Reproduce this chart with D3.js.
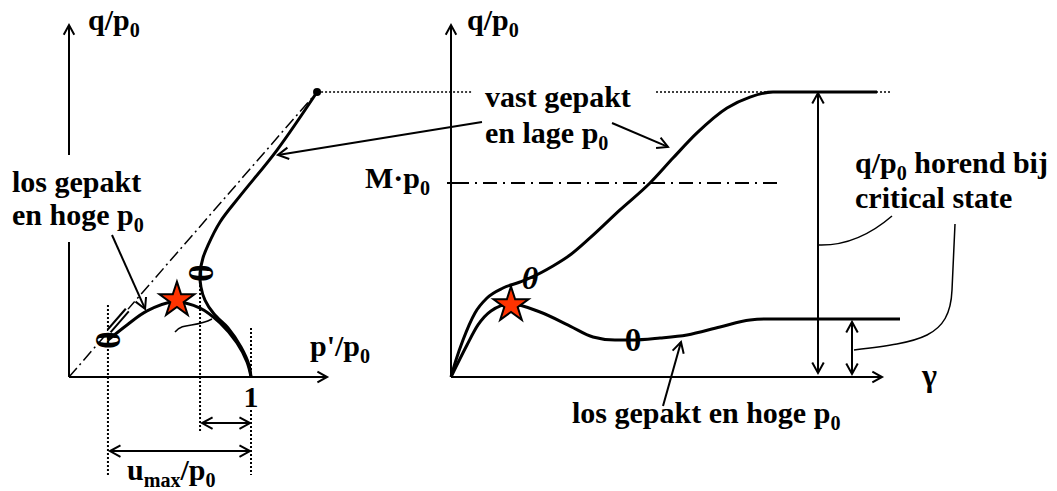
<!DOCTYPE html>
<html>
<head>
<meta charset="utf-8">
<script src="https://d3js.org/d3.v7.min.js"></script>
<style>
  body { margin: 0; background: #fff; }
  text { font-family: "Liberation Serif", "Times New Roman", serif; font-weight: bold; fill: #000; white-space: pre; }
</style>
</head>
<body>
<svg id="chart" width="1057" height="491"></svg>
<script>
// left panel: stress paths, p'/p0 horizontal, q/p0 vertical
var looseLeft = [[1, 0], [0.978, 0.082], [0.923, 0.187], [0.830, 0.297], [0.720, 0.379],
                 [0.571, 0.412], [0.429, 0.363], [0.319, 0.286], [0.214, 0.203]];
var denseLeft = [[1, 0], [0.989, 0.066], [0.945, 0.165], [0.874, 0.269], [0.797, 0.346],
                 [0.747, 0.423], [0.725, 0.495], [0.720, 0.571], [0.736, 0.654], [0.764, 0.725],
                 [0.830, 0.852], [0.940, 0.995], [1.143, 1.247], [1.363, 1.566]];
var peakLeft = [1.363, 1.566];
var slopeM = 1.149;              // critical state line in left panel
var starLeft = [0.593, 0.423];
var thetaLeft = [[0.214, 0.203], [0.720, 0.571]];
var uStart = 0.214, uPhase = 0.720;

// right panel: q/p0 against gamma
var denseRight = [[0, 0], [0.125, 0.093], [0.3, 0.203], [0.6, 0.352], [0.9, 0.434], [1.3, 0.489],
                  [1.725, 0.522], [1.975, 0.544], [2.55, 0.610], [2.975, 0.670], [3.475, 0.764],
                  [4.225, 0.918], [4.975, 1.066], [5.55, 1.203], [6.15, 1.341], [6.9, 1.478],
                  [7.475, 1.538], [8.05, 1.566], [9.15, 1.566], [10.65, 1.566]];
var looseRight = [[0, 0], [0.4, 0.176], [0.675, 0.286], [1.0, 0.363], [1.5, 0.401], [2.225, 0.357],
                  [2.975, 0.280], [3.55, 0.220], [4.1, 0.203], [4.525, 0.203], [5.225, 0.214],
                  [5.9, 0.231], [6.725, 0.275], [7.475, 0.313], [7.975, 0.319], [11.225, 0.319]];
var starRight = [1.5, 0.396];
var thetaRight = [[1.975, 0.544], [4.55, 0.203]];
var mRight = 1.066;
var critLevels = [1.566, 0.319];
var critGamma = [9.175, 10.025];

var svg = d3.select('#chart');

var xL = d3.scaleLinear().domain([0, 1]).range([69, 251]);
var yL = d3.scaleLinear().domain([0, 1]).range([377, 195]);
var xR = d3.scaleLinear().domain([0, 10]).range([451, 851]);
var yR = yL.copy();

var lineL = d3.line().x(function(d) { return xL(d[0]); }).y(function(d) { return yL(d[1]); })
  .curve(d3.curveCatmullRom.alpha(0.5));
var lineR = d3.line().x(function(d) { return xR(d[0]); }).y(function(d) { return yR(d[1]); })
  .curve(d3.curveMonotoneX);

function seg(x1, y1, x2, y2, w, dash) {
  var l = svg.append('line').attr('x1', x1).attr('y1', y1).attr('x2', x2).attr('y2', y2)
    .attr('stroke', '#000').attr('stroke-width', w || 2);
  if (dash) l.attr('stroke-dasharray', dash);
  return l;
}

// open chevron at (x,y) pointing along angle a
function head(x, y, a, len) {
  len = len || 12;
  var sp = 0.5;
  var p = 'M' + (x - len * Math.cos(a - sp)) + ',' + (y - len * Math.sin(a - sp)) +
          'L' + x + ',' + y +
          'L' + (x - len * Math.cos(a + sp)) + ',' + (y - len * Math.sin(a + sp));
  svg.append('path').attr('d', p).attr('fill', 'none').attr('stroke', '#000').attr('stroke-width', 2);
}

function arrow(x1, y1, x2, y2, both) {
  seg(x1, y1, x2, y2, 2);
  var a = Math.atan2(y2 - y1, x2 - x1);
  head(x2, y2, a);
  if (both) head(x1, y1, a + Math.PI);
}

function label(x, y, parts, size, anchor) {
  size = size || 30;
  var t = svg.append('text').attr('x', x).attr('y', y).attr('font-size', size);
  if (anchor) t.attr('text-anchor', anchor);
  var shift = 0;
  parts.forEach(function(s) {
    var sub = s.charAt(0) === '_';
    var off = sub ? 7 : 0;
    t.append('tspan').attr('dy', off - shift).attr('font-size', sub ? size * 0.67 : size)
      .text(sub ? s.slice(1) : s);
    shift = off;
  });
  return t;
}

function theta(x, y, rot, italic) {
  svg.append('text').attr('x', x).attr('y', y).attr('font-size', rot ? 34 : 32)
    .attr('text-anchor', 'middle').attr('dominant-baseline', 'central')
    .attr('font-style', italic ? 'italic' : null)
    .attr('transform', rot ? 'rotate(90,' + x + ',' + y + ')' : null)
    .text('\u03b8');
}

function star(x, y) {
  svg.append('path').attr('d', d3.symbol(d3.symbolStar).size(380)())
    .attr('transform', 'translate(' + x + ',' + y + ')')
    .attr('fill', '#ff3300').attr('stroke', '#000').attr('stroke-width', 2);
}

// ---------- left panel ----------
seg(xL(0), yL(0), xL(0), yL(0.742), 2);
seg(xL(0), yL(1.22), xL(0), yL(1.934), 2);
head(xL(0), yL(1.934), -Math.PI / 2, 11);
seg(xL(0), yL(0), xL(1.418), yL(0), 2);
head(xL(1.418), yL(0), 0, 11);

// critical state line
seg(xL(0), yL(0), xL(1.35), yL(1.35 * slopeM), 1.5, '12,4,2,4');

// dotted guides
seg(xL(uStart), yL(0.396), xL(uStart), yL(-0.538), 2, '2,2');
seg(xL(uPhase), yL(0.571), xL(uPhase), yL(-0.302), 2, '2,2');
seg(xL(1), yL(0.269), xL(1), yL(0), 2, '2,2');
seg(xL(1), yL(-0.181), xL(1), yL(-0.538), 2, '2,2');

// loose path following the CSL: drawn as a double line
svg.append('path').attr('d', lineL([[0.22, 0.22 * slopeM], [0.32, 0.32 * slopeM]]))
  .attr('stroke', '#000').attr('stroke-width', 6).attr('fill', 'none');
svg.append('path').attr('d', lineL([[0.215, 0.215 * slopeM], [0.325, 0.325 * slopeM]]))
  .attr('stroke', '#fff').attr('stroke-width', 2).attr('fill', 'none');

svg.append('path').attr('d', lineL(looseLeft)).attr('fill', 'none').attr('stroke', '#000').attr('stroke-width', 3);
svg.append('path').attr('d', lineL(denseLeft)).attr('fill', 'none').attr('stroke', '#000').attr('stroke-width', 3);

svg.append('circle').attr('cx', xL(peakLeft[0])).attr('cy', yL(peakLeft[1])).attr('r', 4).attr('fill', '#000');

// little tilde linking the two paths
svg.append('path').attr('d', 'M175,332 C183,322 195,328 212,319')
  .attr('fill', 'none').attr('stroke', '#000').attr('stroke-width', 1.5);

star(xL(starLeft[0]), yL(starLeft[1]));
thetaLeft.forEach(function(d) { theta(xL(d[0]), yL(d[1]), true, false); });

arrow(xL(uPhase) + 2, yL(-0.253), xL(1) - 1, yL(-0.253), true);
arrow(xL(uStart) + 2, yL(-0.407), xL(1) - 1, yL(-0.407), true);

label(88, 30, ['q/p', '_0']);
label(310, 356, ["p'/p", '_0']);
label(xL(1), 407, ['1'], 30, 'middle');
label(127, 480, ['u', '_max', '/p', '_0']);
label(12, 192, ['los gepakt']);
label(12, 225, ['en hoge p', '_0']);
arrow(112, 235, xL(0.418), yL(0.374));

// ---------- dotted top line across panels ----------
seg(xL(peakLeft[0]), yL(peakLeft[1]), xR(0.525), yR(critLevels[0]), 1.5, '2,2');
seg(xR(5.125), yR(critLevels[0]), xR(10.975), yR(critLevels[0]), 1.5, '2,2');

// ---------- right panel ----------
seg(xR(0), yR(0), xR(0), yR(1.934), 2);
head(xR(0), yR(1.934), -Math.PI / 2, 11);
seg(xR(0), yR(0), xR(10.775), yR(0), 2);
head(xR(10.775), yR(0), 0, 11);

seg(xR(-0.1), yR(mRight), xR(0.1), yR(mRight), 2);
seg(xR(0.1), yR(mRight), xR(8.225), yR(mRight), 2, '14,6,2,6');

svg.append('path').attr('d', lineR(denseRight)).attr('fill', 'none').attr('stroke', '#000').attr('stroke-width', 3);
svg.append('path').attr('d', lineR(looseRight)).attr('fill', 'none').attr('stroke', '#000').attr('stroke-width', 3);

star(xR(starRight[0]), yR(starRight[1]));
theta(xR(thetaRight[0][0]), yR(thetaRight[0][1]), false, true);
theta(xR(thetaRight[1][0]), yR(thetaRight[1][1]), false, false);

arrow(xR(critGamma[0]), yR(critLevels[0]) + 1, xR(critGamma[0]), yR(0) - 4, true);
arrow(xR(critGamma[1]), yR(critLevels[1]) + 3, xR(critGamma[1]), yR(0) - 3, true);

svg.append('path').attr('d', 'M' + xR(critGamma[0]) + ',245 C845,246 870,235 892,216')
  .attr('fill', 'none').attr('stroke', '#000').attr('stroke-width', 1.5);
svg.append('path').attr('d', 'M' + (xR(critGamma[1]) + 2) + ',350 C920,342 950,338 952,290 L955,224')
  .attr('fill', 'none').attr('stroke', '#000').attr('stroke-width', 1.5);

label(467, 30, ['q/p', '_0']);
label(365, 188, ['M\u00b7p', '_0']);
label(485, 107, ['vast gepakt']);
label(485, 143, ['en lage p', '_0']);
arrow(482, 122, xL(1.148), yL(1.22));
arrow(612, 123, xR(5.425), yR(1.264));
label(855, 173, ['q/p', '_0', ' horend bij']);
label(855, 208, ['critical state']);
label(572, 423, ['los gepakt en hoge p', '_0']);
arrow(663, 406, xR(5.75), yR(0.192));
svg.append('text').attr('x', 922).attr('y', 386).attr('font-size', 32).attr('font-weight', 'normal').text('\u03b3');
</script>
</body>
</html>
